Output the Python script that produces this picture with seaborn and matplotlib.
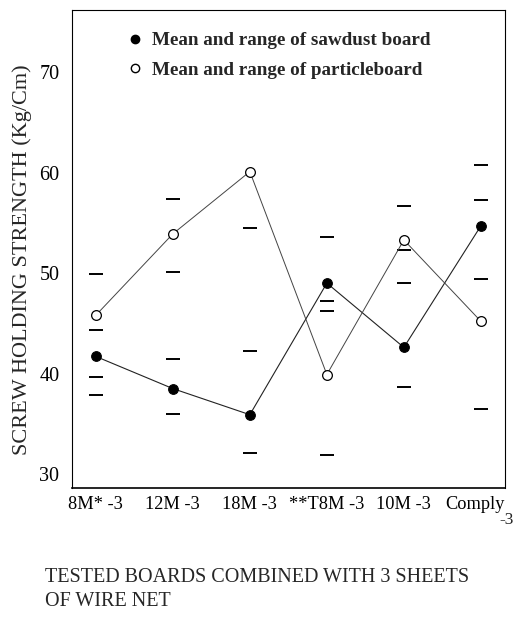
import matplotlib
matplotlib.use("Agg")
import matplotlib.pyplot as plt
import matplotlib.transforms as mtransforms
import seaborn as sns
import pandas as pd
from matplotlib.lines import Line2D

boards = ["8M* -3", "12M -3", "18M -3", "**T8M -3", "10M -3", "Comply"]
sawdust_mean = [41.7, 38.5, 35.9, 49.0, 42.6, 54.7]
particle_mean = [45.8, 53.9, 60.1, 39.9, 53.3, 45.2]
# range end marks (dashes), per board
range_marks = [
    [49.9, 44.3, 39.7, 37.9],
    [57.4, 50.1, 41.4, 36.0],
    [54.5, 42.2, 32.1],
    [53.6, 47.2, 46.2, 31.9],
    [56.7, 52.3, 49.0, 38.7],
    [60.8, 57.3, 49.4, 36.5],
]
yticks = [30, 40, 50, 60, 70]

sns.set_theme(style="white")
plt.rcParams["font.family"] = ["Liberation Serif", "DejaVu Serif"]

fig = plt.figure(figsize=(5.14, 6.17), dpi=100)
ax = fig.add_axes([0.140, 0.209, 0.842, 0.775])

pos = list(range(len(boards)))
df_s = pd.DataFrame({"x": pos, "y": sawdust_mean})
df_p = pd.DataFrame({"x": pos, "y": particle_mean})

rx, ry = [], []
for i, marks in enumerate(range_marks):
    for v in marks:
        rx.append(i)
        ry.append(v)
df_r = pd.DataFrame({"x": rx, "y": ry})

sns.lineplot(data=df_s, x="x", y="y", ax=ax, color="#222222", linewidth=0.8,
             marker="o", markersize=7, markerfacecolor="black",
             markeredgecolor="black", zorder=3)
sns.lineplot(data=df_p, x="x", y="y", ax=ax, color="#444444", linewidth=0.7,
             marker="o", markersize=7, markerfacecolor="white",
             markeredgecolor="black", markeredgewidth=0.9, zorder=3)
sns.scatterplot(data=df_r, x="x", y="y", ax=ax, marker="_", s=110,
                color="black", linewidth=1.4, zorder=2)

ax.set_xlim(-0.31, 5.31)
ax.set_ylim(28.6, 76.2)
ax.set_yticks(yticks)
ax.set_yticklabels([str(t) for t in yticks], fontsize=14.5)
ax.set_xticks(pos)
ax.set_xticklabels(boards, fontsize=13.2)
ax.tick_params(axis="y", direction="inout", length=6, width=0.8, pad=6, colors="black")
ax.tick_params(axis="x", direction="in", length=4, width=0.8, pad=6, colors="black")
# last label sits a little left of its tick in the reference
last = ax.get_xticklabels()[-1]
last.set_transform(last.get_transform() + mtransforms.ScaledTranslation(-6 / 100, 0, fig.dpi_scale_trans))

for s in ax.spines.values():
    s.set_visible(True)
    s.set_color("black")
    s.set_linewidth(0.8)
ax.spines["top"].set_linestyle((0, (3, 1)))
ax.spines["right"].set_linestyle((0, (3, 1)))
ax.spines["left"].set_linestyle((0, (3, 1)))
ax.spines["bottom"].set_linewidth(1.2)

ax.set_xlabel("")
ax.set_ylabel("SCREW HOLDING STRENGTH (Kg/Cm)", fontsize=16)
ax.yaxis.set_label_coords(-0.092, 0.477)

fig.text(0.972, 0.150, "-3", fontsize=12.5, ha="left", va="baseline")
fig.text(0.088, 0.0794, "TESTED BOARDS COMBINED WITH 3 SHEETS\nOF WIRE NET",
         fontsize=14.5, ha="left", va="top", linespacing=1.35)

handles = [
    Line2D([], [], marker="o", color="none", markerfacecolor="black",
           markeredgecolor="black", markersize=6),
    Line2D([], [], marker="o", color="none", markerfacecolor="white",
           markeredgecolor="black", markersize=6),
]
ax.legend(handles, ["Mean and range of sawdust board", "Mean and range of particleboard"],
          loc="upper left", bbox_to_anchor=(0.087, 0.99), frameon=False,
          handlelength=0.8, handletextpad=0.5, labelspacing=0.65,
          prop={"weight": "bold", "size": 13.8})

fig.savefig("out.png", dpi=100)
